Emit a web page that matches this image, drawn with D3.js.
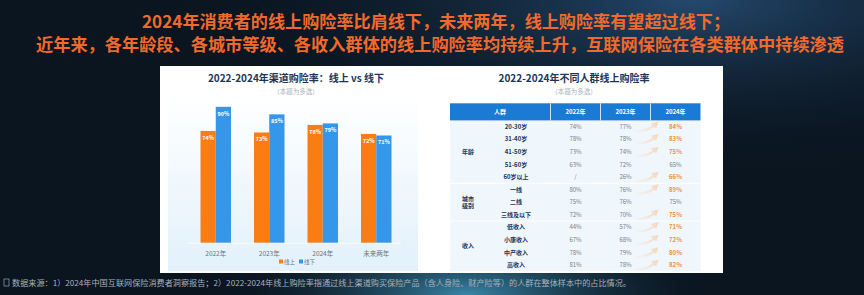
<!DOCTYPE html>
<html>
<head>
<meta charset="utf-8">
<script src="https://cdn.jsdelivr.net/npm/d3@7/dist/d3.min.js"></script>
<style>
  html, body { margin: 0; padding: 0; background: #0a1520; }
  svg { display: block; font-family: "Noto Sans CJK SC", "Noto Sans", sans-serif; }
</style>
</head>
<body>
<div id="chart"></div>
<script>
// ---- data ----
var titleLines = [
  "2024年消费者的线上购险率比肩线下，未来两年，线上购险率有望超过线下；",
  "近年来，各年龄段、各城市等级、各收入群体的线上购险率均持续上升，互联网保险在各类群体中持续渗透"
];
var footNote = "数据来源：1）2024年中国互联网保险消费者洞察报告；2）2022-2024年线上购险率指通过线上渠道购买保险产品（含人身险、财产险等）的人群在整体样本中的占比情况。";

var barTitle = "2022-2024年渠道购险率：线上 vs 线下";
var barSub = "（本题为多选）";
var barCats = ["2022年", "2023年", "2024年", "未来两年"];
var seriesNames = ["线上", "线下"];
var onlineVals = [74, 73, 78, 72];
var offlineVals = [90, 85, 79, 71];

var tableTitle = "2022-2024年不同人群线上购险率";
var tableHead = ["人群", "2022年", "2023年", "2024年"];
var rowGroups = ["年龄", "年龄", "年龄", "年龄", "年龄", "城市级别", "城市级别", "城市级别", "收入", "收入", "收入", "收入"];
var rowLabels = ["20-30岁", "31-40岁", "41-50岁", "51-60岁", "60岁以上", "一线", "二线", "三线及以下", "低收入", "小康收入", "中产收入", "高收入"];
var v2022 = [74, 78, 73, 63, null, 80, 75, 72, 44, 67, 78, 81];
var v2023 = [77, 78, 74, 72, 26, 76, 76, 70, 57, 68, 79, 78];
var v2024 = [84, 83, 75, 65, 66, 89, 75, 75, 71, 72, 80, 82];

var W = 864, H = 295;
var orange = "#fa7d14", blue = "#3597ea", navy = "#1d3557";

var svg = d3.select("#chart").append("svg")
  .attr("width", W).attr("height", H);

var defs = svg.append("defs");

// background glows
var g1 = defs.append("radialGradient").attr("id", "glowTop")
  .attr("cx", "80%").attr("cy", "0%").attr("r", "60%");
g1.append("stop").attr("offset", "0%").attr("stop-color", "#24496e");
g1.append("stop").attr("offset", "100%").attr("stop-color", "#0a1520").attr("stop-opacity", 0);

var g2 = defs.append("radialGradient").attr("id", "glowBot")
  .attr("cx", "54%").attr("cy", "100%").attr("r", "30%");
g2.append("stop").attr("offset", "0%").attr("stop-color", "#3a86a8");
g2.append("stop").attr("offset", "100%").attr("stop-color", "#0a1520").attr("stop-opacity", 0);

var g3 = defs.append("linearGradient").attr("id", "leftBg")
  .attr("x1", 0).attr("y1", 0).attr("x2", 0).attr("y2", 1);
g3.append("stop").attr("offset", "0%").attr("stop-color", "#ffffff");
g3.append("stop").attr("offset", "100%").attr("stop-color", "#e2f1fb");

var g4 = defs.append("linearGradient").attr("id", "arrowGrad")
  .attr("x1", 0).attr("y1", 0).attr("x2", 1).attr("y2", 0);
g4.append("stop").attr("offset", "0%").attr("stop-color", "#f6ebe2").attr("stop-opacity", 0.2);
g4.append("stop").attr("offset", "100%").attr("stop-color", "#f5d5b8");

svg.append("rect").attr("width", W).attr("height", H).attr("fill", "#0a1520");
svg.append("rect").attr("width", W).attr("height", H).attr("fill", "url(#glowTop)");
svg.append("rect").attr("width", W).attr("height", H).attr("fill", "url(#glowBot)");

// headline
var titleSpans = [[142, 730, 27.5], [36, 844, 51]];
svg.selectAll("text.headline").data(titleLines).enter().append("text")
  .attr("class", "headline")
  .attr("x", function(d, i) { return (titleSpans[i][0] + titleSpans[i][1]) / 2; })
  .attr("y", function(d, i) { return titleSpans[i][2]; })
  .attr("text-anchor", "middle")
  .attr("textLength", function(d, i) { return titleSpans[i][1] - titleSpans[i][0]; })
  .attr("lengthAdjust", "spacingAndGlyphs")
  .attr("font-size", 17).attr("font-weight", "bold")
  .attr("fill", "#f26a2b")
  .text(function(d) { return d; });

// white panel
svg.append("rect").attr("x", 160).attr("y", 66).attr("width", 563).attr("height", 207)
  .attr("fill", "#ffffff");
svg.append("rect").attr("x", 168).attr("y", 95).attr("width", 250).attr("height", 176)
  .attr("fill", "url(#leftBg)");

// ---- bar chart ----
svg.append("text").attr("x", 296).attr("y", 82).attr("text-anchor", "middle")
  .attr("font-size", 10).attr("font-weight", "bold").attr("fill", navy).text(barTitle);
svg.append("text").attr("x", 296).attr("y", 94).attr("text-anchor", "middle")
  .attr("font-size", 6.5).attr("fill", "#a9b2bc").text(barSub);

var x = d3.scaleBand().domain(barCats).range([189, 403]).paddingInner(0.43).paddingOuter(0.215);
var xs = d3.scaleBand().domain(seriesNames).range([0, x.bandwidth()]);
var y = d3.scaleLinear().domain([0, 100]).range([242.7, 91.7]);
var color = d3.scaleOrdinal().domain(seriesNames).range([orange, blue]);

var barData = [];
barCats.forEach(function(c, i) {
  barData.push({cat: c, s: "线上", v: onlineVals[i]});
  barData.push({cat: c, s: "线下", v: offlineVals[i]});
});

svg.append("line").attr("x1", 188).attr("x2", 401).attr("y1", y(0) + 0.5).attr("y2", y(0) + 0.5)
  .attr("stroke", "#f4f9fc").attr("stroke-width", 1.5);

var bars = svg.append("g");
bars.selectAll("rect").data(barData).enter().append("rect")
  .attr("x", function(d) { return x(d.cat) + xs(d.s); })
  .attr("y", function(d) { return y(d.v); })
  .attr("width", xs.bandwidth())
  .attr("height", function(d) { return y(0) - y(d.v); })
  .attr("fill", function(d) { return color(d.s); });

bars.selectAll("text").data(barData).enter().append("text")
  .attr("x", function(d) { return x(d.cat) + xs(d.s) + xs.bandwidth() / 2; })
  .attr("y", function(d) { return y(d.v) + 9; })
  .attr("text-anchor", "middle")
  .attr("font-size", 5.5).attr("font-weight", "bold").attr("fill", "#ffffff")
  .text(function(d) { return d.v + "%"; });

var xAxis = svg.append("g").attr("transform", "translate(0," + (y(0) + 3) + ")")
  .call(d3.axisBottom(x).tickSize(0).tickPadding(6));
xAxis.select(".domain").remove();
xAxis.selectAll("text").attr("font-size", 6.5).attr("fill", "#6c7580")
  .attr("font-family", "Noto Sans CJK SC");

var legend = svg.append("g").attr("transform", "translate(279,262)");
var lg = legend.selectAll("g").data(seriesNames).enter().append("g")
  .attr("transform", function(d, i) { return "translate(" + (i * 20) + ",0)"; });
lg.append("rect").attr("x", 0).attr("y", -2.5).attr("width", 4).attr("height", 4)
  .attr("fill", function(d) { return color(d); });
lg.append("text").attr("x", 5).attr("y", 2).attr("font-size", 5.5).attr("fill", "#6c7580")
  .text(function(d) { return d; });

// ---- table ----
svg.append("text").attr("x", 574).attr("y", 82).attr("text-anchor", "middle")
  .attr("font-size", 10).attr("font-weight", "bold").attr("fill", navy).text(tableTitle);
svg.append("text").attr("x", 574).attr("y", 94).attr("text-anchor", "middle")
  .attr("font-size", 6.5).attr("fill", "#a9b2bc").text(barSub);

var colX = d3.scaleBand().domain(tableHead.slice(1)).range([550.5, 700.5]);
var rowY = d3.scaleBand().domain(d3.range(rowLabels.length)).range([120.4, 271.3]);
var headTop = 103.3;

svg.append("rect").attr("x", 450).attr("y", rowY.range()[0]).attr("width", 250.5)
  .attr("height", rowY.range()[1] - rowY.range()[0]).attr("fill", "#eff6fc");

svg.append("rect").attr("x", 450).attr("y", headTop).attr("width", 250.5)
  .attr("height", rowY.range()[0] - headTop).attr("fill", "#1a7ad4");
svg.selectAll("line.colsep").data(tableHead.slice(1)).enter().append("line")
  .attr("class", "colsep")
  .attr("x1", function(d) { return colX(d); }).attr("x2", function(d) { return colX(d); })
  .attr("y1", headTop).attr("y2", rowY.range()[0])
  .attr("stroke", "#ffffff").attr("stroke-width", 0.8);

var headCx = [500].concat(tableHead.slice(1).map(function(d) { return colX(d) + colX.bandwidth() / 2; }));
svg.selectAll("text.head").data(tableHead).enter().append("text")
  .attr("class", "head")
  .attr("x", function(d, i) { return headCx[i]; })
  .attr("y", (headTop + rowY.range()[0]) / 2 + 2.2)
  .attr("text-anchor", "middle").attr("font-size", 6).attr("font-weight", "bold")
  .attr("fill", "#ffffff").text(function(d) { return d; });

// group separators and labels
var groupNames = Array.from(new Set(rowGroups));
var groupInfo = groupNames.map(function(g) {
  var idx = rowGroups.map(function(r, i) { return r === g ? i : -1; }).filter(function(i) { return i >= 0; });
  return {name: g, first: idx[0], last: idx[idx.length - 1]};
});
svg.selectAll("line.gsep").data(groupInfo.slice(1)).enter().append("line")
  .attr("class", "gsep")
  .attr("x1", 450).attr("x2", 700.5)
  .attr("y1", function(d) { return rowY(d.first); }).attr("y2", function(d) { return rowY(d.first); })
  .attr("stroke", "#ffffff").attr("stroke-width", 1);

var gl = svg.selectAll("text.group").data(groupInfo).enter().append("text")
  .attr("class", "group")
  .attr("x", 468)
  .attr("y", function(d) {
    var c = (rowY(d.first) + rowY(d.last) + rowY.bandwidth()) / 2;
    return d.name.length > 2 ? c - 1.5 : c + 2.2;
  })
  .attr("text-anchor", "middle").attr("font-size", 6).attr("font-weight", "bold").attr("fill", navy);
gl.each(function(d) {
  var t = d3.select(this);
  if (d.name.length > 2) {
    t.append("tspan").attr("x", 468).text(d.name.slice(0, 2));
    t.append("tspan").attr("x", 468).attr("dy", 7.5).text(d.name.slice(2));
  } else {
    t.text(d.name);
  }
});

var rows = svg.selectAll("g.row").data(rowLabels).enter().append("g")
  .attr("class", "row")
  .attr("transform", function(d, i) { return "translate(0," + (rowY(i) + rowY.bandwidth() / 2) + ")"; });

rows.append("text").attr("x", 516).attr("y", 2.2).attr("text-anchor", "middle")
  .attr("font-size", 6).attr("font-weight", "bold").attr("fill", navy)
  .text(function(d) { return d; });

var pct = function(v) { return v == null ? "/" : v + "%"; };
var cMid = function(k) { return colX(k) + colX.bandwidth() / 2; };

// rising swoosh arrows (drawn under the texts)
rows.filter(function(d, i) { return v2024[i] > v2023[i]; })
  .append("path")
  .attr("transform", "translate(" + (cMid("2023年") + 10) + ",0)")
  .attr("d", "M0,3 Q10,3.6 17,-1.4 L15.2,-3.4 L23,-5.2 L20.6,1.6 L18.8,0 Q11,6 0,5.6 Z")
  .attr("fill", "url(#arrowGrad)");

rows.append("text").attr("x", cMid("2022年")).attr("y", 2.2).attr("text-anchor", "middle")
  .attr("font-size", 6).attr("fill", "#777f88")
  .text(function(d, i) { return pct(v2022[i]); });
rows.append("text").attr("x", cMid("2023年")).attr("y", 2.2).attr("text-anchor", "middle")
  .attr("font-size", 6).attr("fill", "#777f88")
  .text(function(d, i) { return pct(v2023[i]); });
rows.append("text").attr("x", cMid("2024年")).attr("y", 2.2).attr("text-anchor", "middle")
  .attr("font-size", 6).attr("font-weight", function(d, i) { return v2024[i] > v2023[i] ? "bold" : "normal"; })
  .attr("fill", function(d, i) { return v2024[i] > v2023[i] ? "#f0903a" : "#777f88"; })
  .text(function(d, i) { return pct(v2024[i]); });

// footnote
svg.append("rect").attr("x", 4).attr("y", 279).attr("width", 5).attr("height", 7)
  .attr("fill", "none").attr("stroke", "#9aa4ae").attr("stroke-width", 0.7);
svg.append("text").attr("x", 12).attr("y", 285.5)
  .attr("textLength", 619).attr("lengthAdjust", "spacingAndGlyphs")
  .attr("font-size", 8).attr("fill", "#a7b1bb").text(footNote);
</script>
</body>
</html>
